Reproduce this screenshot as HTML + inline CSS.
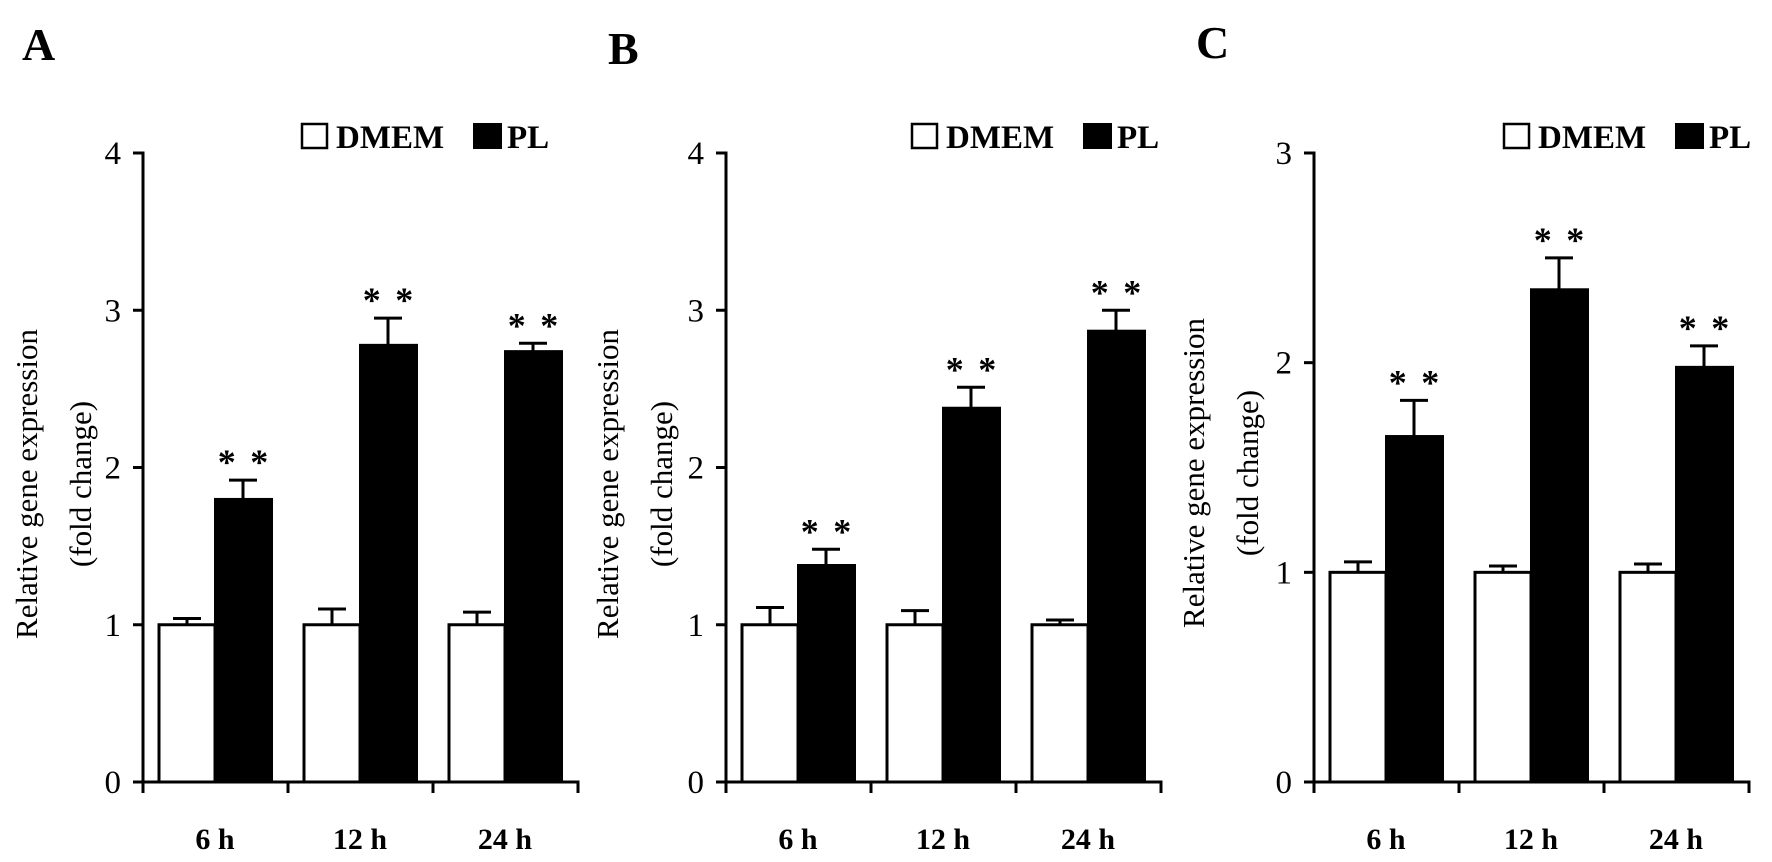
<!DOCTYPE html>
<html><head><meta charset="utf-8"><style>
html,body{margin:0;padding:0;background:#fff;}
svg{display:block;}
text{font-family:"Liberation Serif",serif;fill:#000;}
</style></head><body>
<svg id="fig" width="1772" height="862" viewBox="0 0 1772 862" xmlns="http://www.w3.org/2000/svg"></svg>
<script>
const categories = ["6 h", "12 h", "24 h"];
const dmemA = [1, 1, 1];
const dmemErrA = [0.04, 0.10, 0.08];
const plA = [1.80, 2.78, 2.74];
const plErrA = [0.12, 0.17, 0.05];
const dmemB = [1, 1, 1];
const dmemErrB = [0.11, 0.09, 0.03];
const plB = [1.38, 2.38, 2.87];
const plErrB = [0.10, 0.13, 0.13];
const dmemC = [1, 1, 1];
const dmemErrC = [0.05, 0.03, 0.04];
const plC = [1.65, 2.35, 1.98];
const plErrC = [0.17, 0.15, 0.10];
const ticksAB = ["0", "1", "2", "3", "4"];
const ticksC = ["0", "1", "2", "3"];

const NS = "http://www.w3.org/2000/svg";
const svg = document.getElementById("fig");
function mk(tag, attrs, parent, txt){
  const e = document.createElementNS(NS, tag);
  for (const k in attrs) e.setAttribute(k, attrs[k]);
  if (txt !== undefined) e.textContent = txt;
  (parent || svg).appendChild(e);
  return e;
}

function panel(cfg){
  const g = mk("g", {});
  
  
  const x0 = cfg.x0, y0 = 782, yTop = 153, yMax = cfg.ticks.length - 1;
  const unit = (y0 - yTop) / yMax;
  const yS = v => y0 - v * unit;
  const grp = 145;

  const L = mk("text", {x: cfg.lx, y: cfg.ly, "font-size": 46, "font-weight": "bold"}, g, cfg.letter);
  
  

  const ya = mk("line", {x1: x0, y1: yTop - 1.5, x2: x0, y2: y0, stroke: "#000", "stroke-width": 3}, g);
  
  
  cfg.ticks.forEach((t, i) => {
    const y = yS(i);
    const tk = mk("line", {x1: x0 - 10, y1: y, x2: x0, y2: y, stroke: "#000", "stroke-width": 3}, g);
    
    
    const tl = mk("text", {x: x0 - 22, y: y + 11, "font-size": 33, "text-anchor": "end"}, g, t);
    
    
  });
  const xa = mk("line", {x1: x0 - 10, y1: y0, x2: x0 + grp * 3 + 1.5, y2: y0, stroke: "#000", "stroke-width": 3}, g);
  
  
  for (let i = 0; i <= 3; i++) {
    const tk = mk("line", {x1: x0 + grp * i, y1: y0, x2: x0 + grp * i, y2: y0 + 11, stroke: "#000", "stroke-width": 3}, g);
    
    
  }
  const yt = mk("text", {transform: `translate(${cfg.tx},${cfg.ty}) rotate(-90)`, "font-size": 31, "text-anchor": "middle"}, g, "Relative gene expression");
  
  
  const yt2 = mk("text", {transform: `translate(${cfg.tx + 54},${cfg.ty}) rotate(-90)`, "font-size": 31, "text-anchor": "middle"}, g, "(fold change)");
  
  

  categories.forEach((c, i) => {
    const gx = x0 + grp * i;
    const wx = gx + 16, bx = gx + 72, bw = 56;
    const dv = cfg.dmem[i], de = cfg.dmemErr[i];
    const el1 = mk("line", {x1: wx + bw / 2, y1: yS(dv), x2: wx + bw / 2, y2: yS(dv + de), stroke: "#000", "stroke-width": 3}, g);
    
    
    const ec1 = mk("line", {x1: wx + bw / 2 - 14, y1: yS(dv + de), x2: wx + bw / 2 + 14, y2: yS(dv + de), stroke: "#000", "stroke-width": 3}, g);
    
    
    const r1 = mk("rect", {x: wx, y: yS(dv), width: bw, height: y0 - yS(dv), fill: "#fff", stroke: "#000", "stroke-width": 3}, g);
    
    
    const pv = cfg.pl[i], pe = cfg.plErr[i];
    const el2 = mk("line", {x1: bx + bw / 2, y1: yS(pv), x2: bx + bw / 2, y2: yS(pv + pe), stroke: "#000", "stroke-width": 3}, g);
    
    
    const ec2 = mk("line", {x1: bx + bw / 2 - 14, y1: yS(pv + pe), x2: bx + bw / 2 + 14, y2: yS(pv + pe), stroke: "#000", "stroke-width": 3}, g);
    
    
    const r2 = mk("rect", {x: bx, y: yS(pv), width: bw + 1, height: y0 - yS(pv), fill: "#000", stroke: "#000", "stroke-width": 2}, g);
    
    
    const st = mk("text", {x: bx + bw / 2, y: yS(pv + pe) - 6, "font-size": 36, "font-weight": "bold", "text-anchor": "middle"}, g, "*\u2009\u2009*");
    
    
    const xl = mk("text", {x: gx + 72, y: 849, "font-size": 30, "font-weight": "bold", "text-anchor": "middle"}, g, c);
    
    
  });

  const lg = mk("g", {}, g);
  
  
  const b1 = mk("rect", {x: cfg.legX, y: 124, width: 25, height: 24, fill: "#fff", stroke: "#000", "stroke-width": 2.5}, lg);
  
  
  const t1 = mk("text", {x: cfg.legX + 34, y: 148, "font-size": 33, "font-weight": "bold"}, lg, "DMEM");
  
  
  const b2 = mk("rect", {x: cfg.legX + 171, y: 123, width: 29, height: 26, fill: "#000"}, lg);
  
  
  const t2 = mk("text", {x: cfg.legX + 205, y: 148, "font-size": 33, "font-weight": "bold"}, lg, "PL");
  
  
}

panel({letter: "A", lx: 22, ly: 60, x0: 143, ticks: ticksAB, dmem: dmemA, dmemErr: dmemErrA, pl: plA, plErr: plErrA, tx: 37, ty: 484, legX: 302});
panel({letter: "B", lx: 608, ly: 64, x0: 726, ticks: ticksAB, dmem: dmemB, dmemErr: dmemErrB, pl: plB, plErr: plErrB, tx: 618, ty: 484, legX: 912});
panel({letter: "C", lx: 1196, ly: 58, x0: 1314, ticks: ticksC, dmem: dmemC, dmemErr: dmemErrC, pl: plC, plErr: plErrC, tx: 1204, ty: 473, legX: 1504});
</script>
</body></html>
